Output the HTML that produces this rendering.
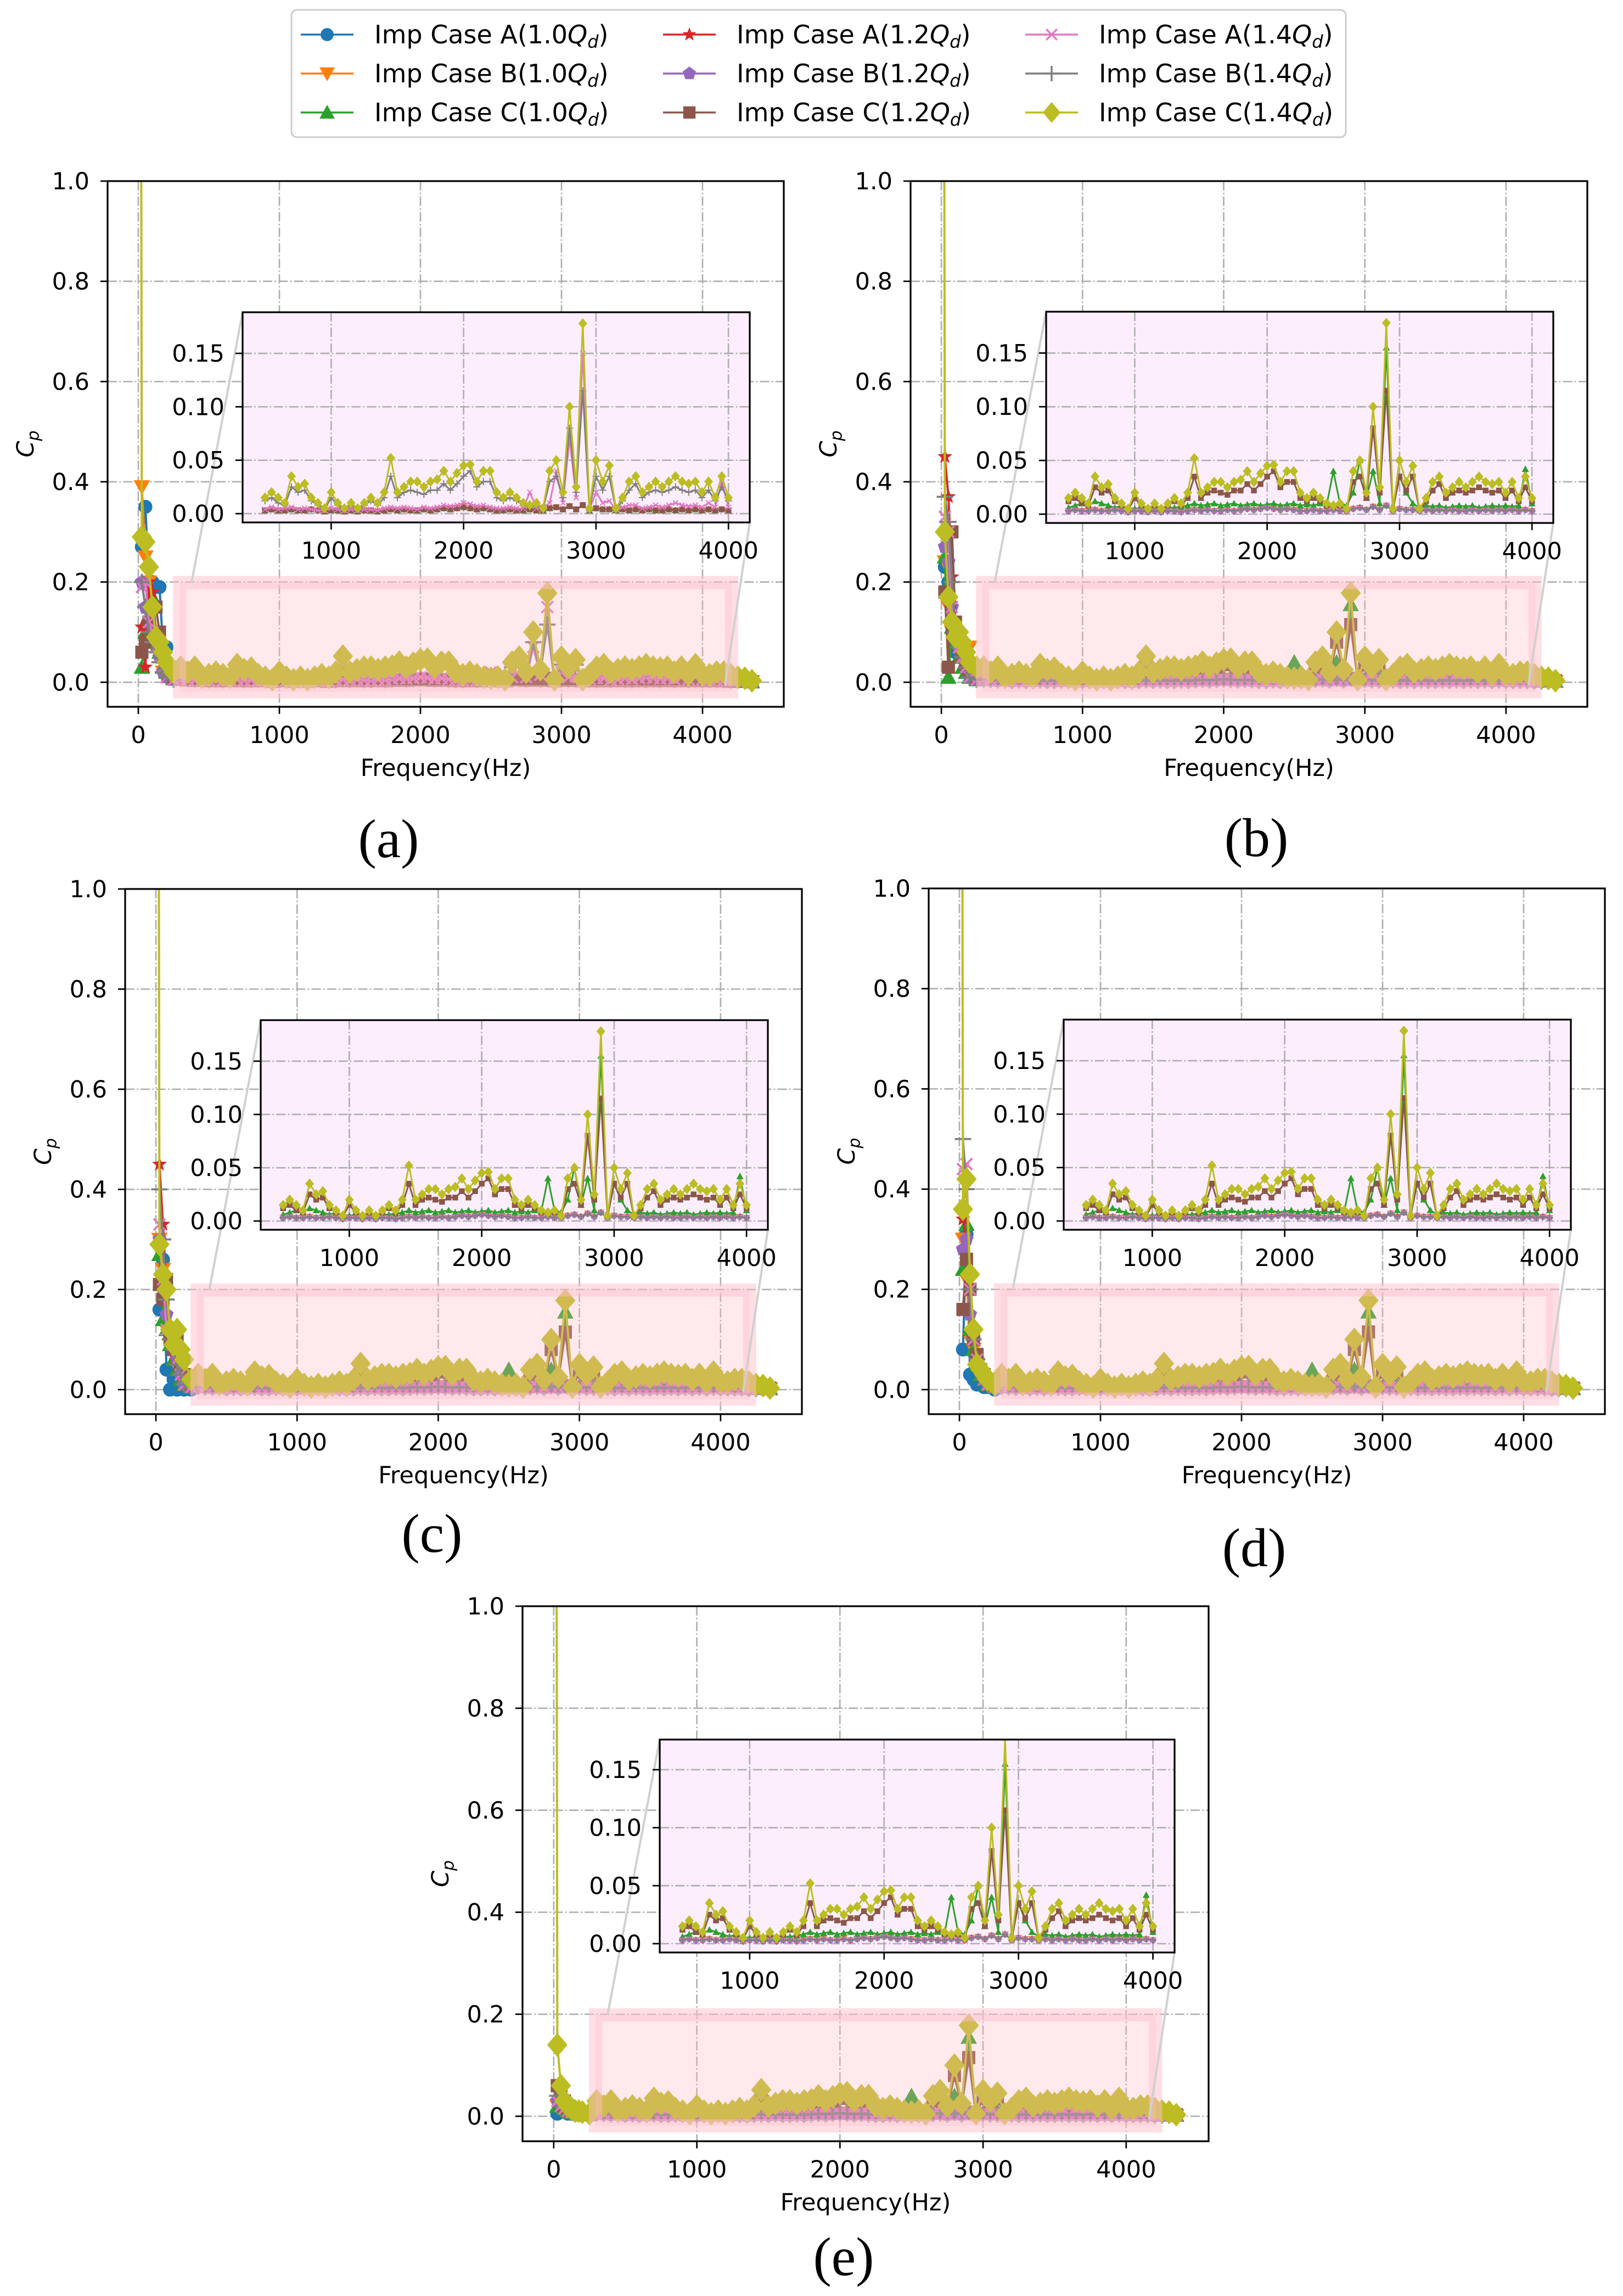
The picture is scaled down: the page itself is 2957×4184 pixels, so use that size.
<!DOCTYPE html>
<html><head><meta charset="utf-8"><style>
html,body{margin:0;padding:0;background:#fff;}
svg{display:block;font-family:"DejaVu Sans","Liberation Sans",sans-serif;}
</style></head><body>
<svg id="fig" width="2957" height="4184" viewBox="0 0 2957 4184" xmlns="http://www.w3.org/2000/svg">
<defs id="defs"></defs>
<g id="legend"></g>
</svg>
<script>
// ---------- data ----------
const freq = [0,25,50,75,100,125,150,175,200,250,
300,350,400,450,500,550,600,650,700,750,800,850,900,950,1000,1050,1100,1150,1200,1250,1300,1350,1400,1450,1500,1550,1600,1650,1700,1750,1800,1850,1900,1950,2000,2050,2100,2150,2200,2250,2300,2350,2400,2450,2500,2550,2600,2650,2700,2750,2800,2850,2900,2950,3000,3050,3100,3150,3200,3250,3300,3350,3400,3450,3500,3550,3600,3650,3700,3750,3800,3850,3900,3950,4000,4050,4100,4150,4200,4250,4300,4350];
const tailC14 = [.03,.02,.03,.01, .015,.02,.015,.01, .035,.025,.028,.015, .01,.005,.02,.01, .005,.01,.005,.01, .015,.01,.02,.052, .02,.025,.03,.03, .025,.03,.032,.04, .03,.038,.045,.046, .03,.04,.04,.02, .015,.02,.015,.01, .008,.01,.005,.04, .05,.02,.1,.025, .178,.005,.05,.03, .045,.005,.015,.03, .035,.02,.025,.03, .025,.03,.035,.03, .028,.03,.02,.03, .015,.035,.015,.015, .02,.02,.015,.01, .008,.003];
const tailC12 = [.02,.015,.02,.008, .012,.015,.01,.008, .025,.02,.022,.012, .008,.004,.015,.008, .004,.008,.004,.008, .012,.008,.015,.035, .015,.02,.022,.02, .018,.022,.022,.028, .022,.028,.035,.04, .025,.03,.03,.015, .012,.015,.012,.008, .006,.008,.004,.03, .035,.015,.08,.02, .115,.004,.035,.022, .035,.004,.012,.022, .028,.015,.02,.022, .02,.022,.025,.022, .02,.022,.015,.022, .012,.025,.012,.012, .015,.015,.012,.008, .006,.003];
const tailC10 = [.01,.008,.01,.006, .006,.008,.01,.008, .012,.01,.008,.006, .008,.006,.005,.006, .005,.006,.005,.006, .006,.007,.008,.01, .008,.009,.01,.008, .009,.01,.008,.009, .01,.008,.009,.01, .008,.009,.01,.008, .009,.008,.01,.009, .04,.01,.008,.02, .05,.015,.04,.01, .155,.008,.035,.02, .01,.006,.008,.007, .008,.006,.007,.008, .007,.008,.006,.007, .008,.007,.008,.007, .008,.042,.01,.008, .007,.006,.005,.004, .003,.002];
const tailLow = [.006,.005,.004,.004, .003,.004,.003,.003, .004,.003,.003,.004, .003,.002,.003,.003, .002,.003,.002,.003, .003,.002,.003,.004, .003,.004,.003,.003, .004,.003,.004,.005, .004,.005,.006,.005, .004,.005,.004,.003, .003,.004,.003,.003, .004,.003,.003,.005, .006,.004,.007,.004, .008,.003,.005,.004, .004,.003,.004,.003, .004,.003,.004,.003, .003,.004,.003,.004, .003,.004,.003,.004, .003,.004,.003,.003, .003,.003,.002,.002, .002,.001];
const tailPinkA = [.006,.005,.004,.004, .004,.006,.004,.005, .006,.004,.005,.004, .003,.003,.005,.004, .003,.004,.003,.004, .004,.003,.005,.006, .005,.006,.005,.004, .006,.005,.006,.008, .007,.008,.01,.009, .007,.008,.006,.005, .005,.006,.005,.005, .02,.005,.006,.01, .04,.01,.07,.015, .15,.004,.02,.01, .012,.004,.006,.008, .008,.005,.006,.008, .006,.008,.01,.008, .007,.008,.006,.01, .006,.03,.006,.006, .005,.005,.004,.003, .002,.001];
const headsA = [[null,0.27,0.35,0.2,0.2,0.19,0.19,0.07,0.07,0.03],[null,0.39,0.25,0.2,0.15,0.1,0.05,0.02,0.01,0.005],[null,0.03,0.1,0.15,0.17,0.1,0.06,0.03,0.02,0.01],[null,0.11,0.03,0.2,0.18,0.1,0.05,0.02,0.01,0.005],[null,0.2,0.15,0.12,0.1,0.07,0.05,0.02,0.01,0.005],[null,0.06,0.08,0.12,0.15,0.15,0.1,0.05,0.03,0.01],[null,0.19,0.2,0.12,0.1,0.07,0.05,0.03,0.01,0.005],[null,0.2,0.15,0.1,0.08,0.06,0.04,0.02,0.01,0.005],[5,0.29,0.28,0.23,0.15,0.09,0.08,0.06,0.04,0.02]];
const headsB = [[null,0.23,0.2,0.12,0.06,0.1,0.08,0.04,0.02,0.01],[null,0.24,0.15,0.1,0.08,0.06,0.04,0.03,0.07,0.005],[null,0.25,0.01,0.11,0.08,0.05,0.03,0.02,0.01,0.005],[null,0.45,0.37,0.21,0.1,0.06,0.04,0.02,0.01,0.005],[null,0.27,0.24,0.15,0.1,0.07,0.05,0.03,0.01,0.005],[null,0.18,0.03,0.3,0.12,0.09,0.06,0.04,0.02,0.01],[null,0.33,0.3,0.15,0.1,0.07,0.05,0.03,0.01,0.005],[null,0.37,0.32,0.2,0.1,0.07,0.05,0.03,0.01,0.005],[5,0.3,0.17,0.12,0.09,0.1,0.08,0.06,0.04,0.03]];
const headsC = [[null,0.16,0.26,0.04,0.0,0.02,0.0,0.01,0.0,0.0],[null,0.3,0.24,0.12,0.09,0.1,0.05,0.03,0.02,0.01],[null,0.27,0.14,0.12,0.09,0.06,0.04,0.02,0.01,0.005],[null,0.45,0.33,0.2,0.1,0.07,0.05,0.03,0.01,0.005],[null,0.3,0.2,0.15,0.1,0.1,0.06,0.03,0.01,0.005],[null,0.21,0.18,0.22,0.1,0.08,0.1,0.05,0.03,0.01],[null,0.33,0.22,0.12,0.1,0.12,0.06,0.03,0.01,0.005],[null,0.4,0.3,0.18,0.1,0.08,0.05,0.03,0.01,0.005],[5,0.29,0.23,0.2,0.12,0.09,0.12,0.08,0.06,0.02]];
const headsD = [[null,0.08,0.31,0.03,0.02,0.01,0.01,0.005,0.005,0.0],[null,0.3,0.22,0.1,0.08,0.05,0.03,0.02,0.01,0.005],[null,0.24,0.33,0.12,0.08,0.05,0.03,0.02,0.01,0.005],[null,0.34,0.3,0.15,0.1,0.06,0.04,0.02,0.01,0.005],[null,0.28,0.3,0.15,0.1,0.06,0.04,0.02,0.01,0.005],[null,0.16,0.26,0.2,0.1,0.07,0.04,0.03,0.02,0.01],[null,0.44,0.45,0.2,0.1,0.06,0.04,0.02,0.01,0.005],[null,0.5,0.4,0.2,0.1,0.06,0.04,0.02,0.01,0.005],[5,0.36,0.42,0.23,0.12,0.05,0.04,0.03,0.02,0.01]];
const headsE = [[null,0.005,0.01,0.01,0.005,0.005,0.004,0.003,0.003,0.002],[null,0.02,0.015,0.01,0.008,0.006,0.005,0.004,0.003,0.002],[null,0.02,0.02,0.015,0.01,0.008,0.006,0.005,0.004,0.003],[null,0.03,0.02,0.015,0.01,0.008,0.006,0.005,0.004,0.003],[null,0.03,0.025,0.02,0.015,0.01,0.008,0.006,0.004,0.003],[null,0.06,0.04,0.03,0.02,0.015,0.01,0.008,0.006,0.004],[null,0.03,0.02,0.015,0.01,0.008,0.006,0.005,0.004,0.003],[null,0.04,0.03,0.02,0.015,0.01,0.008,0.006,0.004,0.003],[5,0.14,0.06,0.03,0.02,0.015,0.01,0.01,0.008,0.005]];
const seriesNames = ["A(1.0","B(1.0","C(1.0","A(1.2","B(1.2","C(1.2","A(1.4","B(1.4","C(1.4"];
const mainXTicks = [0,1000,2000,3000,4000];
const mainYTicks = [0.0,0.2,0.4,0.6,0.8,1.0];
const mainYLabels = ["0.0","0.2","0.4","0.6","0.8","1.0"];
const insetXTicks = [1000,2000,3000,4000];
const insetYTicks = [0.0,0.05,0.10,0.15];
const insetYLabels = ["0.00","0.05","0.10","0.15"];

// ---------- style ----------
const colors = ["#1f77b4","#ff7f0e","#2ca02c","#d62728","#9467bd","#8c564b","#e377c2","#7f7f7f","#bcbd22"];
const mkTypes = ["o","v","^","*","p","s","x","+","D"];
const tailsStd = [tailLow,tailLow,tailC10,tailLow,tailLow,tailC12,tailLow,tailLow,tailC14];
const tailsA = [tailLow,tailLow,tailLow,tailLow,tailLow,tailLow,tailPinkA,tailC12,tailC14];

const panels = [
 {id:"a",heads:headsA,tails:tailsA,box:[196,330,1428,1288],ins:[442,569,1366,952],iy:[-0.0082,0.1885],lab:[708,1562]},
 {id:"b",heads:headsB,tails:tailsStd,box:[1659,330,2892,1288],ins:[1906,568,2830,953],iy:[-0.0082,0.1885],lab:[2289,1560]},
 {id:"c",heads:headsC,tails:tailsStd,box:[228,1620,1461,2577],ins:[475,1859,1399,2241],iy:[-0.0082,0.1885],lab:[787,2828]},
 {id:"d",heads:headsD,tails:tailsStd,box:[1692,1619,2924,2577],ins:[1938,1858,2862,2241],iy:[-0.0082,0.1885],lab:[2285,2854]},
 {id:"e",heads:headsE,tails:tailsStd,box:[952,2927,2202,3902],ins:[1202,3170,2140,3558],iy:[-0.0076,0.176],lab:[1537,4146]}
];
const XLIM=[-218,4576], YLIM=[-0.049,1.0], IXLIM=[331,4161];
const NS="http://www.w3.org/2000/svg";
const svg=document.getElementById("fig");
const defs=document.getElementById("defs");

function el(tag,attrs,parent){const e=document.createElementNS(NS,tag);for(const k in attrs)e.setAttribute(k,attrs[k]);if(parent)parent.appendChild(e);return e;}

function markerEl(t,x,y,s,c,parent){
  let e;const h=s/2;
  if(t==="o"){e=el("circle",{cx:x,cy:y,r:h*0.85,fill:c},parent);}
  else if(t==="v"){e=el("polygon",{points:`${x-h},${y-h*0.8} ${x+h},${y-h*0.8} ${x},${y+h}`,fill:c},parent);}
  else if(t==="^"){e=el("polygon",{points:`${x-h},${y+h*0.8} ${x+h},${y+h*0.8} ${x},${y-h}`,fill:c},parent);}
  else if(t==="s"){e=el("rect",{x:x-h*0.8,y:y-h*0.8,width:h*1.6,height:h*1.6,fill:c},parent);}
  else if(t==="D"){e=el("polygon",{points:`${x},${y-h} ${x+h*0.85},${y} ${x},${y+h} ${x-h*0.85},${y}`,fill:c},parent);}
  else if(t==="p"){let p=[];for(let i=0;i<5;i++){const a=-Math.PI/2+i*2*Math.PI/5;p.push((x+h*0.9*Math.cos(a)).toFixed(1)+","+(y+h*0.9*Math.sin(a)).toFixed(1));}e=el("polygon",{points:p.join(" "),fill:c},parent);}
  else if(t==="*"){let p=[];for(let i=0;i<10;i++){const a=-Math.PI/2+i*Math.PI/5;const r=i%2?h*0.4:h*0.95;p.push((x+r*Math.cos(a)).toFixed(1)+","+(y+r*Math.sin(a)).toFixed(1));}e=el("polygon",{points:p.join(" "),fill:c},parent);}
  else if(t==="x"){e=el("path",{d:`M${x-h*0.7},${y-h*0.7}L${x+h*0.7},${y+h*0.7}M${x-h*0.7},${y+h*0.7}L${x+h*0.7},${y-h*0.7}`,stroke:c,"stroke-width":Math.max(2,s/8),fill:"none"},parent);}
  else {e=el("path",{d:`M${x-h},${y}L${x+h},${y}M${x},${y-h}L${x},${y+h}`,stroke:c,"stroke-width":Math.max(2,s/8),fill:"none"},parent);}
  return e;
}

function drawGrid(g,L,T,R,B,xs,ys,sx,sy){
  xs.forEach(v=>{const ln=el("line",{x1:sx(v),x2:sx(v),y1:T,y2:B,stroke:"#b0b0b0","stroke-width":2.7,"stroke-dasharray":"17,4.3,2.7,4.3"},g);});
  ys.forEach(v=>{const ln=el("line",{x1:L,x2:R,y1:sy(v),y2:sy(v),stroke:"#b0b0b0","stroke-width":2.7,"stroke-dasharray":"17,4.3,2.7,4.3"},g);});
}

function drawSeries(g,xsArr,ysArr,sx,sy,filt,mSize,lw){
  for(let k=0;k<9;k++){
    const sg=el("g",{},g);
    
    
    const pts=[];
    for(let i=0;i<xsArr.length;i++){const v=ysArr[k][i];if(v!==null&&filt(xsArr[i]))pts.push([sx(xsArr[i]),sy(v)]);}
    const pl=el("polyline",{points:pts.map(p=>p[0].toFixed(1)+","+p[1].toFixed(1)).join(" "),fill:"none",stroke:colors[k],"stroke-width":lw,"stroke-linejoin":"round"},sg);
    
    
    const ms=k===8?mSize*1.45:mSize;
    pts.forEach(p=>{const m=markerEl(mkTypes[k],p[0],p[1],ms,colors[k],sg);
      
      });
  }
}

panels.forEach(P=>{
  const [L,T,R,B]=P.box;
  const sx=v=>L+(v-XLIM[0])/(XLIM[1]-XLIM[0])*(R-L);
  const sy=v=>B-(v-YLIM[0])/(YLIM[1]-YLIM[0])*(B-T);
  const g=el("g",{},svg);
  
  
  const cp=el("clipPath",{id:"clip"+P.id},defs);el("rect",{x:L,y:T,width:R-L,height:B-T},cp);
  drawGrid(g,L,T,R,B,mainXTicks,mainYTicks,sx,sy);
  const ys=[];for(let k=0;k<9;k++)ys.push(P.heads[k].concat(P.tails[k]));
  const n=Math.min(freq.length,...ys.map(a=>a.length));
  const fx=freq.slice(0,n);
  const dg=el("g",{"clip-path":`url(#clip${P.id})`},g);
  
  
  drawSeries(dg,fx,ys,sx,sy,()=>true,30,4);
  const rx1=sx(292),rx2=sx(4206),ry1=sy(0.199),ry2=sy(-0.019);
  const zr=el("rect",{x:rx1,y:ry1,width:rx2-rx1,height:ry2-ry1,fill:"#ffb6c1","fill-opacity":0.3,stroke:"#ffc0cb","stroke-opacity":0.5,"stroke-width":24},g);
  
  
  const [iL,iT,iR,iB]=P.ins;
  const c1=el("line",{x1:iL,y1:iT,x2:rx1+22,y2:ry1,stroke:"#d0d0d0","stroke-width":4},g);
  
  const c2=el("line",{x1:iR,y1:iB,x2:rx2-12,y2:ry2-12,stroke:"#d0d0d0","stroke-width":4},g);
  
  const sp=el("rect",{x:L,y:T,width:R-L,height:B-T,fill:"none",stroke:"#000","stroke-width":3.2},g);
  
  mainXTicks.forEach(v=>{const x=sx(v);
    const tk=el("line",{x1:x,x2:x,y1:B,y2:B+13,stroke:"#000","stroke-width":2.7},g);
    const t=el("text",{x:x,y:B+66,"font-size":43,"text-anchor":"middle"},g);t.textContent=String(v);});
  mainYTicks.forEach((v,i)=>{const y=sy(v);
    const tk=el("line",{x1:L-13,x2:L,y1:y,y2:y,stroke:"#000","stroke-width":2.7},g);
    const t=el("text",{x:L-33,y:y+15,"font-size":43,"text-anchor":"end"},g);t.textContent=mainYLabels[i];});
  const xl=el("text",{x:(L+R)/2,y:B+126,"font-size":43,"text-anchor":"middle"},g);xl.textContent="Frequency(Hz)";
  
  const yc=(T+B)/2;
  const yl=el("text",{x:0,y:0,"font-size":43,"text-anchor":"middle",transform:`translate(${L-135},${yc}) rotate(-90)`},g);
  yl.innerHTML='<tspan font-style="italic">C</tspan><tspan font-style="italic" font-size="30" dy="10">p</tspan>';
  
  const isx=v=>iL+(v-IXLIM[0])/(IXLIM[1]-IXLIM[0])*(iR-iL);
  const isy=v=>iB-(v-P.iy[0])/(P.iy[1]-P.iy[0])*(iB-iT);
  const ig=el("g",{},g);
  
  const ib=el("rect",{x:iL,y:iT,width:iR-iL,height:iB-iT,fill:"#fdeefd"},ig);
  
  drawGrid(ig,iL,iT,iR,iB,insetXTicks,insetYTicks,isx,isy);
  const icp=el("clipPath",{id:"iclip"+P.id},defs);el("rect",{x:iL,y:iT,width:iR-iL,height:iB-iT},icp);
  const idg=el("g",{"clip-path":`url(#iclip${P.id})`},ig);
  
  drawSeries(idg,fx,ys,isx,isy,f=>f>=480&&f<=4020,13,3);
  const isp=el("rect",{x:iL,y:iT,width:iR-iL,height:iB-iT,fill:"none",stroke:"#000","stroke-width":3.2},ig);
  
  insetXTicks.forEach(v=>{const x=isx(v);
    const tk=el("line",{x1:x,x2:x,y1:iB,y2:iB+13,stroke:"#000","stroke-width":2.7},ig);
    const t=el("text",{x:x,y:iB+66,"font-size":43,"text-anchor":"middle"},ig);t.textContent=String(v);});
  insetYTicks.forEach((v,i)=>{const y=isy(v);
    const tk=el("line",{x1:iL-13,x2:iL,y1:y,y2:y,stroke:"#000","stroke-width":2.7},ig);
    const t=el("text",{x:iL-33,y:y+15,"font-size":43,"text-anchor":"end"},ig);t.textContent=insetYLabels[i];});
  const pl=el("text",{x:P.lab[0],y:P.lab[1],"font-size":100,"text-anchor":"middle","font-family":"Liberation Serif, serif"},g);
  pl.textContent="("+P.id+")";
  
});

// legend
const lg=document.getElementById("legend");
svg.appendChild(lg);
const lb=el("rect",{x:531,y:18,width:1921,height:232,rx:10,fill:"#fff",stroke:"#cccccc","stroke-width":3},lg);

const colX=[548,1208,1868], rowY=[63,134,205];
for(let k=0;k<9;k++){
  const c=Math.floor(k/3), r=k%3;
  const eg=el("g",{},lg);
  
  
  el("line",{x1:colX[c],x2:colX[c]+96,y1:rowY[r],y2:rowY[r],stroke:colors[k],"stroke-width":3.5},eg);
  markerEl(mkTypes[k],colX[c]+48,rowY[r],k===8?38:28,colors[k],eg);
  const t=el("text",{x:colX[c]+134,y:rowY[r]+16,"font-size":46},eg);
  t.innerHTML='Imp Case '+seriesNames[k]+'<tspan font-style="italic">Q</tspan><tspan font-style="italic" font-size="32" dy="8">d</tspan><tspan dy="-8">)</tspan>';
}
</script>
</body></html>
